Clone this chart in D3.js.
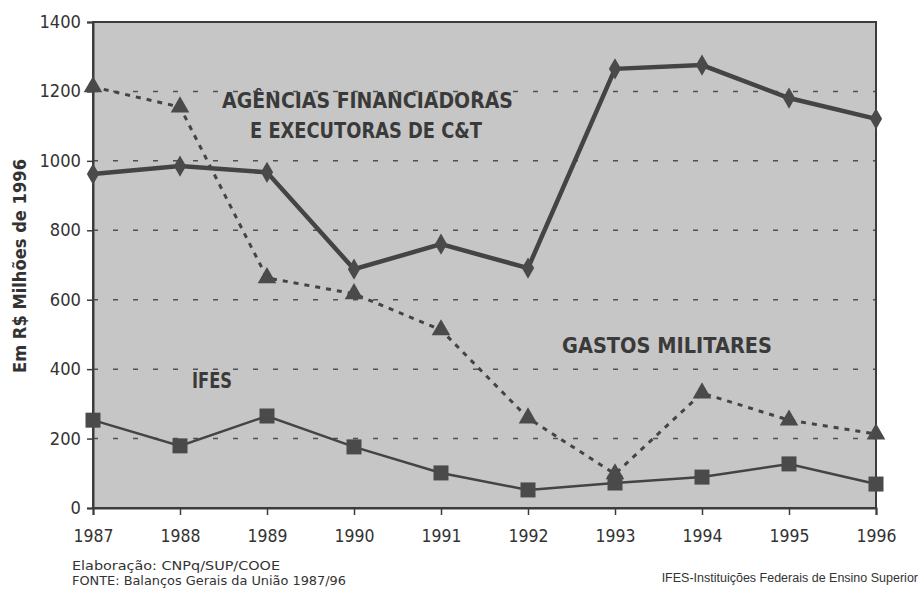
<!DOCTYPE html>
<html>
<head>
<meta charset="utf-8">
<script src="https://cdn.jsdelivr.net/npm/d3@7"></script>
<style>
  body { margin: 0; background: #fff; }
  svg { display: block; }
</style>
</head>
<body>
<svg></svg>
<script>
//  data
var years = [1987, 1988, 1989, 1990, 1991, 1992, 1993, 1994, 1995, 1996];
var agencias = [962, 985, 967, 688, 760, 691, 1265, 1276, 1181, 1121];
var gastosMilitares = [1213, 1155, 663, 617, 513, 259, 98, 331, 253, 213];
var ifes = [253, 179, 265, 176, 101, 52, 72, 89, 127, 69];
var yTicks = [0, 200, 400, 600, 800, 1000, 1200, 1400];
var gridValues = [200, 400, 600, 800, 1000, 1200];

var width = 924, height = 593;
var margin = {left: 93, right: 48, top: 22, bottom: 85};

var svg = d3.select("svg").attr("width", width).attr("height", height);
var font = "'DejaVu Sans', 'Century Gothic', sans-serif";

var x = d3.scaleLinear()
    .domain([1987, 1996])
    .range([margin.left, width - margin.right]);
var y = d3.scaleLinear()
    .domain([0, 1400])
    .range([height - margin.bottom, margin.top]);

var ink = "#3c3c3c";

//  plot background
svg.append("rect")
    .attr("x", x(1987)).attr("y", y(1400))
    .attr("width", x(1996) - x(1987))
    .attr("height", y(0) - y(1400))
    .attr("fill", "#c6c6c6");

//  grid lines
svg.append("g").selectAll("line")
    .data(gridValues)
    .enter().append("line")
    .attr("x1", x(1987)).attr("x2", x(1996))
    .attr("y1", function(d) { return y(d); })
    .attr("y2", function(d) { return y(d); })
    .attr("stroke", "#505050")
    .attr("stroke-width", 1.5)
    .attr("stroke-dasharray", "5,15");

//  frame
svg.append("rect")
    .attr("x", x(1987)).attr("y", y(1400))
    .attr("width", x(1996) - x(1987))
    .attr("height", y(0) - y(1400))
    .attr("fill", "none")
    .attr("stroke", ink)
    .attr("stroke-width", 2);

//  axes
var yAxis = d3.axisLeft(y).tickValues(yTicks).tickFormat(d3.format("d")).tickSize(6).tickPadding(6);
var gy = svg.append("g")
    .attr("transform", "translate(" + x(1987) + ",0)")
    .call(yAxis);
gy.select(".domain").attr("stroke", ink).attr("stroke-width", 2);
gy.selectAll(".tick line").attr("stroke", ink).attr("stroke-width", 1.5);
gy.selectAll(".tick text")
    .attr("font-family", font)
    .attr("font-size", 17)
    .attr("fill", "#333")
    .attr("lengthAdjust", "spacingAndGlyphs")
    .attr("textLength", function(d) { return String(d).length * 10.4; });

var xAxis = d3.axisBottom(x).tickValues(years).tickFormat(d3.format("d")).tickSize(7).tickPadding(14);
var gx = svg.append("g")
    .attr("transform", "translate(0," + y(0) + ")")
    .call(xAxis);
gx.select(".domain").attr("stroke", ink).attr("stroke-width", 2);
gx.selectAll(".tick line").attr("stroke", ink).attr("stroke-width", 1.5);
gx.selectAll(".tick text")
    .attr("font-family", font)
    .attr("font-size", 18)
    .attr("fill", "#333")
    .attr("lengthAdjust", "spacingAndGlyphs")
    .attr("textLength", 40);

//  lines
var line = d3.line()
    .x(function(d, i) { return x(years[i]); })
    .y(function(d) { return y(d); });

svg.append("path")
    .datum(gastosMilitares)
    .attr("d", line)
    .attr("fill", "none")
    .attr("stroke", "#444")
    .attr("stroke-width", 3)
    .attr("stroke-dasharray", "5,6");

svg.append("path")
    .datum(ifes)
    .attr("d", line)
    .attr("fill", "none")
    .attr("stroke", "#444")
    .attr("stroke-width", 2.5);

svg.append("path")
    .datum(agencias)
    .attr("d", line)
    .attr("fill", "none")
    .attr("stroke", "#444")
    .attr("stroke-width", 4.5);

//  markers
var mark = "#4a4a4a";
svg.append("g").selectAll("path")
    .data(gastosMilitares)
    .enter().append("path")
    .attr("d", d3.symbol().type(d3.symbolTriangle).size(150))
    .attr("transform", function(d, i) { return "translate(" + x(years[i]) + "," + y(d) + ")"; })
    .attr("fill", mark);

svg.append("g").selectAll("rect")
    .data(ifes)
    .enter().append("rect")
    .attr("x", function(d, i) { return x(years[i]) - 7.5; })
    .attr("y", function(d) { return y(d) - 7.5; })
    .attr("width", 15).attr("height", 15)
    .attr("fill", mark);

svg.append("g").selectAll("path")
    .data(agencias)
    .enter().append("path")
    .attr("d", d3.symbol().type(d3.symbolDiamond).size(130))
    .attr("transform", function(d, i) { return "translate(" + x(years[i]) + "," + y(d) + ")"; })
    .attr("fill", mark);

//  series labels (x0 = left edge, w = width in the original)
function label(txt, x0, base, w) {
    svg.append("text")
        .attr("x", x0).attr("y", base)
        .attr("font-family", font)
        .attr("font-size", 21)
        .attr("font-weight", "bold")
        .attr("fill", "#3a3a3a")
        .attr("lengthAdjust", "spacingAndGlyphs")
        .attr("textLength", w)
        .text(txt);
}
label("AGÊNCIAS FINANCIADORAS", 222, 108, 291);
label("E EXECUTORAS DE C&T", 250, 138, 232);
label("GASTOS MILITARES", 562, 353, 210);
label("IFES", 192, 388, 40);

//  y title
svg.append("text")
    .attr("transform", "translate(26,266) rotate(-90)")
    .attr("text-anchor", "middle")
    .attr("font-family", font)
    .attr("font-size", 17)
    .attr("font-weight", "bold")
    .attr("fill", "#333")
    .attr("lengthAdjust", "spacingAndGlyphs")
    .attr("textLength", 214)
    .text("Em R$ Milhões de 1996");

//  footnotes
svg.append("text")
    .attr("x", 72).attr("y", 570)
    .attr("font-family", font).attr("font-size", 12.5).attr("fill", "#333")
    .attr("lengthAdjust", "spacingAndGlyphs").attr("textLength", 208)
    .text("Elaboração: CNPq/SUP/COOE");
svg.append("text")
    .attr("x", 72).attr("y", 585)
    .attr("font-family", font).attr("font-size", 12.5).attr("fill", "#333")
    .attr("lengthAdjust", "spacingAndGlyphs").attr("textLength", 274)
    .text("FONTE: Balanços Gerais da União 1987/96");
svg.append("text")
    .attr("x", 918).attr("y", 582)
    .attr("text-anchor", "end")
    .attr("font-family", "'Liberation Sans', Arial, sans-serif")
    .attr("font-size", 12.5).attr("fill", "#333")
    .text("IFES-Instituições Federais de Ensino Superior");
</script>
</body>
</html>
